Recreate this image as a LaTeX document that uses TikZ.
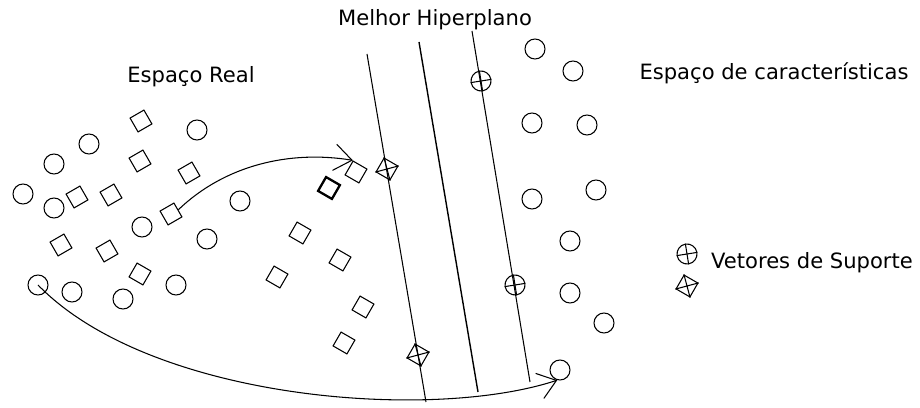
\documentclass[tikz,border=0pt]{standalone}
\usepackage{fontspec}
\setmainfont{DejaVu Sans}
\usetikzlibrary{arrows.meta}
\tikzset{
  pt/.style={circle,draw,line width=0.6pt,minimum size=0.4cm,inner sep=0pt},
  sq/.style={rectangle,draw,line width=0.6pt,minimum size=0.32cm,inner sep=0pt},
  sqa/.style={sq,rotate=30},
  sqb/.style={sq,rotate=60},
  svc/.style={pt,rotate=9},
  lbl/.style={font=\fontsize{12pt}{14pt}\selectfont},
  arr/.style={line width=0.6pt,-{Straight Barb[length=10pt,width=15pt]}}
}
\begin{document}
\begin{tikzpicture}[x=0.02cm,y=-0.02cm]
    \useasboundingbox (0,0) rectangle (920,408);
    % labels
    \node[lbl] (titulo) at (435,20) {Melhor Hiperplano};
    \node[lbl] (real) at (191,77) {Espaço Real};
    \node[lbl] (carac) at (774,73) {Espaço de características};
    \node[lbl] (vetores) at (812,263) {Vetores de Suporte};
    % hiperplanos
    \draw[line width=0.6pt] (367,54) -- (426,402);
    \draw[line width=0.8pt] (419,42) -- (478,392);
    \draw[line width=0.6pt] (472,31) -- (530,382);
    % espaco real, circulos
    \node[pt] (a1) at (197,130) {};
    \node[pt] (a2) at (89,144) {};
    \node[pt] (a3) at (54,164) {};
    \node[pt] (a4) at (23,194) {};
    \node[pt] (a5) at (54,208) {};
    \node[pt] (a6) at (240,201) {};
    \node[pt] (a7) at (142,227) {};
    \node[pt] (a8) at (207,239) {};
    \node[pt] (a9) at (38,285) {};
    \node[pt] (a10) at (72,292) {};
    \node[pt] (a11) at (123,299) {};
    \node[pt] (a12) at (176,285) {};
    % espaco real, quadrados
    \node[sqa] (q1) at (141,121) {};
    \node[sqa] (q2) at (140,161) {};
    \node[sqa] (q3) at (189,173) {};
    \node[sqa] (q4) at (77,197) {};
    \node[sqa] (q5) at (111,195) {};
    \node[sqa] (q6) at (171,214) {};
    \node[sqa] (q7) at (61,245) {};
    \node[sqa] (q8) at (107,251) {};
    \node[sqb] (q9) at (140,274) {};
    % quadrados perto do hiperplano
    \node[sqb] (q10) at (356,172) {};
    \node[sqb,line width=1.3pt] (q11) at (329,188) {};
    \node[sqb] (q12) at (300,233) {};
    \node[sqb] (q13) at (340,260) {};
    \node[sqb] (q14) at (277,277) {};
    \node[sqb] (q15) at (363,307) {};
    \node[sqb] (q16) at (344,343) {};
    % vetores de suporte
    \node[sqb] (v1) at (387,169) {};
    \draw[line width=0.6pt] (v1.north west) -- (v1.south east) (v1.north east) -- (v1.south west);
    \node[sqb] (v2) at (418,355) {};
    \draw[line width=0.6pt] (v2.north west) -- (v2.south east) (v2.north east) -- (v2.south west);
    \node[svc] (u1) at (481,81) {};
    \draw[line width=0.6pt] (u1.west) -- (u1.east) (u1.north) -- (u1.south);
    \node[svc] (u2) at (515,285) {};
    \draw[line width=0.6pt] (u2.west) -- (u2.east) (u2.north) -- (u2.south);
    % espaco de caracteristicas
    \node[pt] (b1) at (535,49) {};
    \node[pt] (b2) at (573,71) {};
    \node[pt] (b3) at (532,123) {};
    \node[pt] (b4) at (587,125) {};
    \node[pt] (b5) at (532,199) {};
    \node[pt] (b6) at (596,190) {};
    \node[pt] (b7) at (570,241) {};
    \node[pt] (b8) at (570,293) {};
    \node[pt] (b9) at (604,323) {};
    \node[pt] (b10) at (560,370) {};
    % legenda
    \node[svc] (u3) at (687,254) {};
    \draw[line width=0.6pt] (u3.west) -- (u3.east) (u3.north) -- (u3.south);
    \node[sqb] (v3) at (687,286) {};
    \draw[line width=0.6pt] (v3.north west) -- (v3.south east) (v3.north east) -- (v3.south west);
    % mapeamentos
    \draw[arr] (q6.east) .. controls (225,165) and (290,150) .. (q10.north east);
    \draw[arr] (a9.center) .. controls (150,400) and (430,422) .. (b10.-105);
\end{tikzpicture}
\end{document}
